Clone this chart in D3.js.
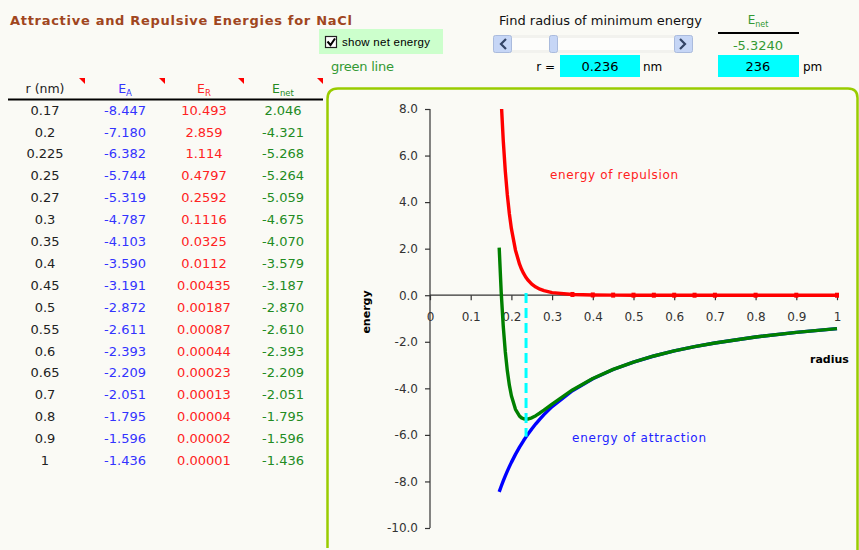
<!DOCTYPE html>
<html>
<head>
<meta charset="utf-8">
<script src="https://cdn.jsdelivr.net/npm/d3@7"></script>
<style>
  body { margin: 0; background: #fafaf5; }
  svg { display: block; font-family: "DejaVu Sans", sans-serif; }
</style>
</head>
<body>
<svg></svg>
<script>
// table values (as printed)
let tableR    = ["0.17","0.2","0.225","0.25","0.27","0.3","0.35","0.4","0.45","0.5","0.55","0.6","0.65","0.7","0.8","0.9","1"];
let tableEA   = ["-8.447","-7.180","-6.382","-5.744","-5.319","-4.787","-4.103","-3.590","-3.191","-2.872","-2.611","-2.393","-2.209","-2.051","-1.795","-1.596","-1.436"];
let tableER   = ["10.493","2.859","1.114","0.4797","0.2592","0.1116","0.0325","0.0112","0.00435","0.00187","0.00087","0.00044","0.00023","0.00013","0.00004","0.00002","0.00001"];
let tableEnet = ["2.046","-4.321","-5.268","-5.264","-5.059","-4.675","-4.070","-3.579","-3.187","-2.870","-2.610","-2.393","-2.209","-2.051","-1.795","-1.596","-1.436"];

// chart series (finer near the minimum)
let chartR    = [0.17, 0.175, 0.18, 0.185, 0.19, 0.195, 0.2, 0.21, 0.22, 0.225, 0.23, 0.236, 0.24, 0.25, 0.26, 0.27, 0.28, 0.3, 0.35, 0.4, 0.45, 0.5, 0.55, 0.6, 0.65, 0.7, 0.8, 0.9, 1];
let chartEA   = [-8.447, -8.206, -7.978, -7.762, -7.558, -7.364, -7.180, -6.838, -6.527, -6.382, -6.243, -6.085, -5.983, -5.744, -5.523, -5.319, -5.129, -4.787, -4.103, -3.590, -3.191, -2.872, -2.611, -2.393, -2.209, -2.051, -1.795, -1.596, -1.436];
let chartER   = [10.493, 8.32, 6.642, 5.334, 4.309, 3.501, 2.859, 1.935, 1.334, 1.114, 0.935, 0.761, 0.665, 0.4797, 0.351, 0.2592, 0.194, 0.1116, 0.0325, 0.0112, 0.00435, 0.00187, 0.00087, 0.00044, 0.00023, 0.00013, 0.00004, 0.00002, 0.00001];
let chartEnet = [2.046, 0.114, -1.336, -2.428, -3.249, -3.863, -4.321, -4.903, -5.193, -5.268, -5.308, -5.324, -5.318, -5.264, -5.173, -5.059, -4.935, -4.675, -4.070, -3.579, -3.187, -2.870, -2.610, -2.393, -2.209, -2.051, -1.795, -1.596, -1.436];

let yTicks = [8, 6, 4, 2, 0, -2, -4, -6, -8, -10];
let xTicks = [0, 0.1, 0.2, 0.3, 0.4, 0.5, 0.6, 0.7, 0.8, 0.9, 1];

let minR = 0.236, minE = -5.3240;

let width = 859, height = 550;
let svg = d3.select("svg").attr("width", width).attr("height", height);

svg.append("rect").attr("width", width).attr("height", height).attr("fill", "#fafaf5");

// ---------- title & controls ----------
svg.append("text").attr("x", 10).attr("y", 25)
  .attr("fill", "#a0461e").attr("font-weight", "bold").attr("font-size", 13)
  .attr("textLength", 342).attr("lengthAdjust", "spacing")
  .text("Attractive and Repulsive Energies for NaCl");

svg.append("rect").attr("x", 319).attr("y", 29).attr("width", 124).attr("height", 25).attr("fill", "#ccffcc");
svg.append("rect").attr("x", 325.5).attr("y", 36.5).attr("width", 11).attr("height", 11)
  .attr("fill", "#fff").attr("stroke", "#222").attr("stroke-width", 1.2);
svg.append("path").attr("d", "M327.5,41.5 L330.5,45 L335,38.5").attr("fill", "none").attr("stroke", "#000").attr("stroke-width", 2);
svg.append("text").attr("x", 342).attr("y", 46).attr("font-size", 11.5).attr("fill", "#000")
  .attr("font-family", "Liberation Sans, sans-serif")
  .attr("textLength", 88).attr("lengthAdjust", "spacing").text("show net energy");
svg.append("text").attr("x", 331).attr("y", 71).attr("font-size", 13).attr("fill", "#339933")
  .attr("textLength", 63).attr("lengthAdjust", "spacing").text("green line");

svg.append("text").attr("x", 499).attr("y", 25).attr("font-size", 13).attr("fill", "#111")
  .attr("textLength", 203).attr("lengthAdjust", "spacing").text("Find radius of minimum energy");

// scrollbar
let sb = svg.append("g");
sb.append("rect").attr("x", 493).attr("y", 35).attr("width", 199).attr("height", 18).attr("fill", "#f2f2ee");
sb.append("rect").attr("x", 512).attr("y", 38).attr("width", 162).attr("height", 12).attr("fill", "#fdfdfb");
[[493, "M506,39 L501,44 L506,49"], [674, "M680,39 L685,44 L680,49"]].forEach(function(b) {
  sb.append("rect").attr("x", b[0] + 0.5).attr("y", 35.5).attr("width", 18).attr("height", 17).attr("rx", 2)
    .attr("fill", "#c6d6f6").attr("stroke", "#aabbdd");
  sb.append("path").attr("d", b[1]).attr("fill", "none").attr("stroke", "#334466").attr("stroke-width", 2.2);
});
sb.append("rect").attr("x", 549.5).attr("y", 35.5).attr("width", 8).attr("height", 17).attr("rx", 2)
  .attr("fill", "#c6d6f6").attr("stroke", "#aabbdd");

svg.append("text").attr("x", 555).attr("y", 71).attr("text-anchor", "end").attr("font-size", 12).text("r =");
svg.append("rect").attr("x", 560).attr("y", 55).attr("width", 80).attr("height", 22).attr("fill", "#00ffff");
svg.append("text").attr("x", 600).attr("y", 71).attr("text-anchor", "middle").attr("font-size", 13).text(minR.toFixed(3));
svg.append("text").attr("x", 643).attr("y", 71).attr("font-size", 12).text("nm");

let en = svg.append("text").attr("x", 758).attr("y", 24).attr("text-anchor", "middle").attr("font-size", 12).attr("fill", "#339933");
en.append("tspan").text("E");
en.append("tspan").attr("font-size", 8).attr("dy", 3).text("net");
svg.append("line").attr("x1", 718).attr("x2", 799).attr("y1", 33).attr("y2", 33).attr("stroke", "#000").attr("stroke-width", 2);
svg.append("text").attr("x", 758).attr("y", 50).attr("text-anchor", "middle").attr("font-size", 13).attr("fill", "#339933").text(minE.toFixed(4));
svg.append("rect").attr("x", 718).attr("y", 55).attr("width", 81).attr("height", 22).attr("fill", "#00ffff");
svg.append("text").attr("x", 758).attr("y", 71).attr("text-anchor", "middle").attr("font-size", 13).text(Math.round(minR * 1000));
svg.append("text").attr("x", 803).attr("y", 71).attr("font-size", 12).text("pm");

// ---------- table ----------
let cols = [
  {x: 45,  color: "#222",    main: "r (nm)", sub: "",    vals: tableR,   tri: 79},
  {x: 125, color: "#3333ff", main: "E",      sub: "A",   vals: tableEA,  tri: 159},
  {x: 204, color: "#ff2222", main: "E",      sub: "R",   vals: tableER,  tri: 238},
  {x: 283, color: "#228b22", main: "E",      sub: "net", vals: tableEnet, tri: 317}
];
let rowY = d3.scaleLinear().domain([0, 1]).range([110, 131.9]);

cols.forEach(function(c) {
  let h = svg.append("text").attr("x", c.x).attr("y", 93).attr("text-anchor", "middle")
    .attr("font-size", 12.5).attr("fill", c.color);
  h.append("tspan").text(c.main);
  if (c.sub) h.append("tspan").attr("font-size", 8.5).attr("dy", 3).text(c.sub);
  svg.append("path").attr("d", `M${c.tri},78 L${c.tri + 6},78 L${c.tri + 6},84 Z`).attr("fill", "#ff0000");
  svg.append("g").selectAll("text").data(c.vals).enter().append("text")
    .attr("x", c.x).attr("y", (d, i) => rowY(i)).attr("dy", "0.36em")
    .attr("text-anchor", "middle").attr("font-size", 13).attr("fill", c.color)
    .text(d => d);
});
svg.append("line").attr("x1", 8).attr("x2", 323).attr("y1", 99.5).attr("y2", 99.5).attr("stroke", "#000").attr("stroke-width", 2);

// ---------- chart ----------
svg.append("path")
  .attr("d", "M327.5,548 L327.5,99 Q327.5,88.5 338,88.5 L848,88.5 Q857.5,88.5 857.5,98 L857.5,550")
  .attr("fill", "none").attr("stroke", "#99cc00").attr("stroke-width", 2.5);

let x = d3.scaleLinear().domain([0, 1]).range([430, 837]);
let y = d3.scaleLinear().domain([-10, 8]).range([528, 109]);

svg.append("defs").append("clipPath").attr("id", "plot")
  .append("rect").attr("x", 420).attr("y", y(8)).attr("width", 430).attr("height", y(-10) - y(8));

let yAxis = svg.append("g").attr("transform", `translate(${x(0)},0)`)
  .call(d3.axisLeft(y).tickValues(yTicks).tickSize(5).tickPadding(7).tickFormat(d => d.toFixed(1)));
let xAxis = svg.append("g").attr("transform", `translate(0,${y(0)})`)
  .call(d3.axisBottom(x).tickValues(xTicks).tickSize(5).tickPadding(12).tickFormat(d => String(d)));
[yAxis, xAxis].forEach(function(a) {
  a.selectAll("path, line").attr("stroke", "#333").attr("stroke-width", 1.2);
  a.selectAll("text").attr("fill", "#333").attr("font-size", 12).attr("font-family", "DejaVu Sans, sans-serif");
});
yAxis.select(".domain").attr("d", `M0,${y(8)}V${y(-10)}`);
xAxis.select(".domain").attr("d", `M${x(0)},0H${x(1)}`);

let series = [
  {vals: chartEA,   color: "#0000ff"},
  {vals: chartER,   color: "#ff0000"},
  {vals: chartEnet, color: "#008000"}
];
let plot = svg.append("g").attr("clip-path", "url(#plot)");
series.forEach(function(s) {
  let line = d3.line().x((d, i) => x(chartR[i])).y(d => y(d));
  plot.append("path").datum(s.vals).attr("d", line)
    .attr("fill", "none").attr("stroke", s.color).attr("stroke-width", 3.4).attr("stroke-linejoin", "round");
});
// small point markers on the flat part of the repulsion curve
plot.append("g").selectAll("rect").data(chartER.map((d, i) => [chartR[i], d]).filter(d => d[0] >= 0.35)).enter().append("rect")
  .attr("x", d => x(d[0]) - 2).attr("y", d => y(d[1]) - 2.5)
  .attr("width", 4).attr("height", 5).attr("fill", "#ff0000");

// minimum marker
svg.append("line").attr("x1", x(minR)).attr("x2", x(minR)).attr("y1", y(0.1)).attr("y2", y(chartEA[chartR.indexOf(minR)]))
  .attr("stroke", "#00ffff").attr("stroke-width", 3).attr("stroke-dasharray", "10,5");

svg.append("text").attr("x", 550).attr("y", 179).attr("font-size", 12).attr("fill", "#ff2020")
  .attr("textLength", 128).attr("lengthAdjust", "spacing").text("energy of repulsion");
svg.append("text").attr("x", 572).attr("y", 442).attr("font-size", 12).attr("fill", "#2222ff")
  .attr("textLength", 134).attr("lengthAdjust", "spacing").text("energy of attraction");
svg.append("text").attr("x", 810).attr("y", 363).attr("font-size", 11).attr("font-weight", "bold").text("radius");
svg.append("text").attr("transform", "translate(370,312) rotate(-90)").attr("text-anchor", "middle")
  .attr("font-size", 11).attr("font-weight", "bold").text("energy");
</script>
</body>
</html>
